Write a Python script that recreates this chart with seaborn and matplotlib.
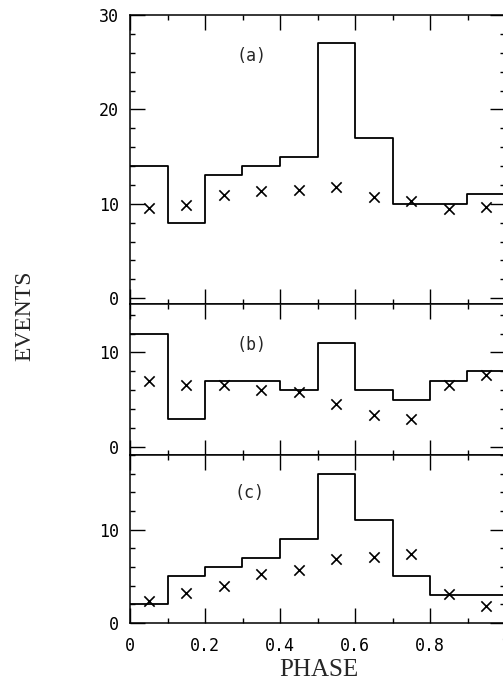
import numpy as np
import pandas as pd
import matplotlib
matplotlib.use("Agg")
import matplotlib.pyplot as plt
import seaborn as sns
from matplotlib.ticker import MultipleLocator

# ---- data ----
bin_edges = [0.0, 0.1, 0.2, 0.3, 0.4, 0.5, 0.6, 0.7, 0.8, 0.9, 1.0]
phase_centers = [0.05, 0.15, 0.25, 0.35, 0.45, 0.55, 0.65, 0.75, 0.85, 0.95]

hist_a = [14, 8, 13, 14, 15, 27, 17, 10, 10, 11]
cross_a = [9.5, 9.9, 10.9, 11.4, 11.45, 11.8, 10.7, 10.3, 9.4, 9.65]

hist_b = [12, 3, 7, 7, 6, 11, 6, 5, 7, 8]
cross_b = [7.0, 6.55, 6.6, 6.0, 5.8, 4.6, 3.4, 3.0, 6.6, 7.65]

hist_c = [2, 5, 6, 7, 9, 16, 11, 5, 3, 3]
cross_c = [2.4, 3.2, 4.0, 5.3, 5.7, 6.9, 7.1, 7.35, 3.1, 1.8]

panel_labels = ["(a)", "(b)", "(c)"]
x_ticks = [0, 0.2, 0.4, 0.6, 0.8, 1.0]
x_tick_labels = ["0", "0.2", "0.4", "0.6", "0.8", "1"]

sns.set_style("ticks")
plt.rcParams["font.family"] = ["DejaVu Sans Mono", "DejaVu Sans"]

fig = plt.figure(figsize=(5.03, 6.82), dpi=100)

W, H = 503.0, 682.0
left = 130 / W
width = (505 - 130) / W
# (top_px, bottom_px, ylim, yticks)
panels = [
    (15.0, 304.3, (-0.65, 30), [0, 10, 20, 30]),
    (304.3, 455.0, (-0.85, 15.1), [0, 10]),
    (455.0, 623.0, (0, 18), [0, 10]),
]
label_pos = [(0.325, 25.7), (0.323, 10.8), (0.32, 13.9)]
hists = [hist_a, hist_b, hist_c]
crosses = [cross_a, cross_b, cross_c]

for i, (top_px, bot_px, ylim, yt) in enumerate(panels):
    ax = fig.add_axes([left, 1 - bot_px / H, width, (bot_px - top_px) / H])
    df = pd.DataFrame({"phase": phase_centers, "count": hists[i], "cross": crosses[i]})
    sns.histplot(data=df, x="phase", weights="count", bins=bin_edges,
                 element="step", fill=False, color="black", linewidth=1.3, ax=ax)
    sns.scatterplot(data=df, x="phase", y="cross", marker="x", color="black",
                    s=55, linewidth=1.2, ax=ax, zorder=3)
    ax.set_xlim(0, 1.0)
    ax.set_ylim(*ylim)
    ax.set_yticks(yt)
    ax.set_yticklabels([str(v) for v in yt])
    ax.yaxis.set_minor_locator(MultipleLocator(2))
    ax.set_xticks(x_ticks)
    ax.xaxis.set_minor_locator(MultipleLocator(0.1))
    ax.tick_params(which="both", direction="in", top=True, right=True,
                   labelsize=12, colors="black")
    ax.tick_params(which="major", length=11, width=1.0)
    ax.tick_params(which="minor", length=3.8, width=1.0)
    ax.tick_params(axis="y", pad=8)
    ax.tick_params(axis="x", pad=10)
    if i < 2:
        ax.set_xticklabels([])
    else:
        ax.set_xticklabels(x_tick_labels)
    ax.set_xlabel("")
    ax.set_ylabel("")
    for sp in ax.spines.values():
        sp.set_linewidth(1.1)
        sp.set_color("black")
    ax.text(label_pos[i][0], label_pos[i][1], panel_labels[i], ha="center",
            va="center", fontsize=12, family=["DejaVu Sans Mono"])

fig.text(25 / W, 1 - 316 / H, "EVENTS", rotation=90, ha="center", va="center",
         fontsize=17, family=["Liberation Serif"])
fig.text(319 / W, 1 - 670 / H, "PHASE", ha="center", va="center",
         fontsize=18, family=["Liberation Serif"])

fig.savefig("out.png", dpi=100, facecolor="white")
